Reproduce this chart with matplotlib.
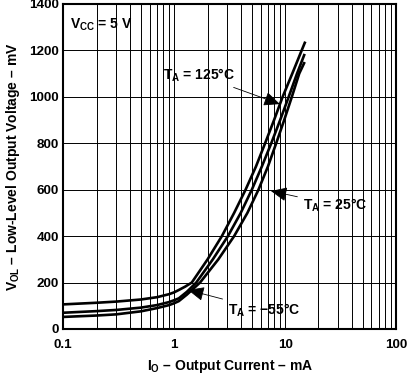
import matplotlib
matplotlib.use("Agg")
import matplotlib.pyplot as plt
from matplotlib.ticker import FixedLocator, NullFormatter

plt.rcParams['font.family'] = ['Liberation Sans', 'DejaVu Sans']
plt.rcParams['font.weight'] = 'bold'
plt.rcParams['axes.labelweight'] = 'bold'
plt.rcParams['mathtext.fontset'] = 'custom'
plt.rcParams['mathtext.rm'] = 'Liberation Sans:bold'
plt.rcParams['mathtext.it'] = 'Liberation Sans:bold'
plt.rcParams['mathtext.bf'] = 'Liberation Sans:bold'

# output current (mA) vs low-level output voltage (mV)
io_125 = [0.1, 0.2, 0.3, 0.5, 0.7, 0.9, 1.0, 1.1, 1.25, 1.44, 2.0, 2.69, 3.47,
          4.4, 5.46, 6.6, 7.95, 9.5, 11.6, 14.1, 15.2]
vol_125 = [106, 113, 118, 127, 137, 150, 158, 168, 182, 200, 300, 400, 500,
           600, 700, 800, 900, 1000, 1100, 1200, 1238]

io_25 = [0.1, 0.2, 0.3, 0.5, 0.7, 0.9, 1.0, 1.1, 1.3, 1.58, 2.23, 3.05, 3.98,
         5.01, 6.17, 7.5, 9.02, 10.77, 12.8, 15.0]
vol_25 = [70, 77, 82, 92, 103, 116, 124, 132, 160, 200, 300, 400, 500,
          600, 700, 800, 900, 1000, 1100, 1185]

io_m55 = [0.1, 0.2, 0.3, 0.5, 0.7, 0.9, 1.0, 1.1, 1.3, 1.71, 2.5, 3.47, 4.57,
          5.75, 7.0, 8.31, 9.81, 11.5, 13.4, 15.0]
vol_m55 = [52, 58, 63, 76, 90, 103, 111, 120, 148, 200, 300, 400, 500,
           600, 700, 800, 900, 1000, 1100, 1150]

y_ticks = [0, 200, 400, 600, 800, 1000, 1200, 1400]
x_ticks = [0.1, 1, 10, 100]
x_tick_labels = ['0.1', '1', '10', '100']

fig = plt.figure(figsize=(4.10, 3.75), dpi=100)
ax = fig.add_axes([0.1544, 0.1227, 0.8115, 0.8667])

ax.set_xscale('log')
ax.set_xlim(0.1, 100)
ax.set_ylim(0, 1400)

minor = [m * 10.0 ** d for d in (-1, 0, 1) for m in range(2, 10)]
ax.xaxis.set_major_locator(FixedLocator(x_ticks))
ax.xaxis.set_minor_locator(FixedLocator(minor))
ax.xaxis.set_minor_formatter(NullFormatter())
ax.set_xticklabels(x_tick_labels, fontweight='bold')
ax.set_yticks(y_ticks)
ax.set_yticklabels([str(v) for v in y_ticks], fontweight='bold')

ax.grid(True, which='both', axis='x', color='black', lw=0.7)
ax.grid(True, which='major', axis='y', color='black', lw=0.7)
ax.set_axisbelow(True)
ax.tick_params(which='both', length=0, labelsize=9.7)
ax.tick_params(axis='x', pad=7)
ax.tick_params(axis='y', pad=3)
for s in ax.spines.values():
    s.set_linewidth(1.5)

for xs, ys in ((io_125, vol_125), (io_25, vol_25), (io_m55, vol_m55)):
    ax.plot(xs, ys, color='black', lw=1.9, solid_capstyle='butt',
            solid_joinstyle='round')

ax.set_xlabel(r'$I_O$ – Output Current – mA', fontsize=10,
              fontweight='bold', labelpad=5)
ax.set_ylabel(r'$V_{OL}$ – Low-Level Output Voltage – mV', fontsize=10,
              fontweight='bold', labelpad=5)

ax.text(0.02, 0.935, r'$V_{CC}$ = 5 V', transform=ax.transAxes,
        fontsize=10, fontweight='bold', va='center', ha='left')

arrow = dict(arrowstyle='-|>,head_length=0.9,head_width=0.4', color='black',
             lw=0.6, mutation_scale=11, shrinkA=2, shrinkB=0)
ax.annotate(r'$T_A$ = 125°C', xy=(0.651, 0.692), xycoords='axes fraction',
            xytext=(0.30, 0.7815), textcoords='axes fraction', fontweight='bold',
            fontsize=10, va='center', ha='left', arrowprops=arrow)
ax.annotate(r'$T_A$ = 25°C', xy=(0.624, 0.4246), xycoords='axes fraction',
            xytext=(0.72, 0.3815), textcoords='axes fraction', fontweight='bold',
            fontsize=10, va='center', ha='left', arrowprops=arrow)
ax.annotate(r'$T_A$ = −55°C', xy=(0.375, 0.12), xycoords='axes fraction',
            xytext=(0.495, 0.0585), textcoords='axes fraction', fontweight='bold',
            fontsize=10, va='center', ha='left', arrowprops=arrow)

fig.savefig('out.png', dpi=100)
